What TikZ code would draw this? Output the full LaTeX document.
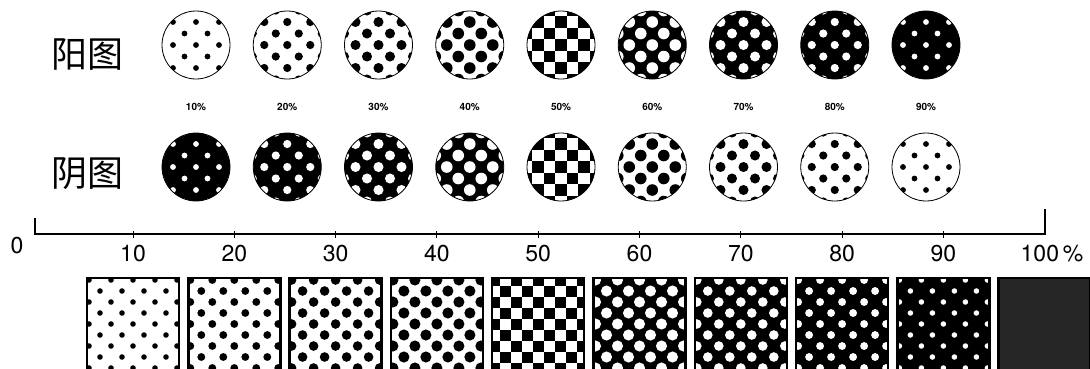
\documentclass[tikz,border=0pt]{standalone}
\usepackage{fontspec}
\setmainfont{TeX Gyre Heros}
\newfontfamily\cjk{Noto Sans CJK SC}
\usetikzlibrary{positioning}

% halftone fill: #1 = percent black, #2 = cell size
\newcommand{\tone}[2]{%
  \begin{scope}[shift={(path picture bounding box.center)}]
    \ifnum#1<50
      \fill[white] (-60,-60) rectangle (60,60);
      \pgfmathsetmacro{\dotr}{#2*sqrt(0.02*#1/pi)}
      \foreach \i in {-5,...,5}{\foreach \j in {-5,...,5}{
        \ifodd\numexpr\i+\j+10\relax\else
          \fill[black] (\i*#2,\j*#2) circle[radius=\dotr pt];
        \fi}}
    \else\ifnum#1=50
      \fill[white] (-60,-60) rectangle (60,60);
      \foreach \i in {-5,...,5}{\foreach \j in {-5,...,5}{
        \ifodd\numexpr\i+\j+10\relax\else
          \fill[black] (\i*#2-#2/2,\j*#2-#2/2) rectangle ++(#2,#2);
        \fi}}
    \else\ifnum#1<100
      \fill[black] (-60,-60) rectangle (60,60);
      \pgfmathsetmacro{\dotr}{#2*sqrt(0.02*(100-#1)/pi)}
      \foreach \i in {-5,...,5}{\foreach \j in {-5,...,5}{
        \ifodd\numexpr\i+\j+10\relax\else
          \fill[white] (\i*#2,\j*#2) circle[radius=\dotr pt];
        \fi}}
    \else
      \fill[black!85] (-60,-60) rectangle (60,60);
    \fi\fi\fi
  \end{scope}}

\begin{document}
\begin{tikzpicture}[x=1pt,y=-1pt,
  dotdisc/.style={circle, draw, line width=0.8pt, minimum size=68pt, inner sep=0pt},
  dotsquare/.style={rectangle, draw, line width=2.5pt, minimum size=92pt, inner sep=0pt},
  pctlabel/.style={font=\bfseries\fontsize{10}{10}\selectfont},
  axislabel/.style={font=\fontsize{23}{23}\selectfont},
  rowlabel/.style={font=\cjk\fontsize{36}{36}\selectfont}]
  \useasboundingbox (0,0) rectangle (1090,368);
  \clip (0,0) rectangle (1090,368);

  % row labels
  \node[rowlabel] (poslabel) at (87,54) {阳图};
  \node[rowlabel] (neglabel) at (87,174) {阴图};

  % positive and negative discs
  \foreach \k [evaluate=\k as \p using int(10*\k), evaluate=\k as \q using int(100-10*\k)] in {1,...,9}{
    \node[dotdisc, path picture={\tone{\p}{11.5}}] (pos\k) at ({196+91.25*(\k-1)},45) {};
    \node[pctlabel] (pct\k) at ({196+91.25*(\k-1)},107) {\p\%};
    \node[dotdisc, path picture={\tone{\q}{11.5}}] (neg\k) at ({196+91.25*(\k-1)},167) {};
  }

  % scale
  \coordinate (axisstart) at (35,218);
  \coordinate (origin) at (35,234);
  \coordinate (axisend) at (1045,234);
  \coordinate (axisstop) at (1045,209);
  \draw[line width=1.6pt] (axisstart) -- (origin) -- (axisend) -- (axisstop);
  \node[axislabel] (zero) at (17,246) {0};
  \foreach \k [evaluate=\k as \p using int(10*\k)] in {1,...,9}{
    \coordinate (tick\k) at ({133+101.3*(\k-1)},234);
    \draw[line width=1pt] ([yshift=-3.5pt]tick\k) -- ([yshift=3.5pt]tick\k);
    \node[axislabel] (num\k) at ({133+101.3*(\k-1)},254) {\p};
  }
  \node[axislabel] (num10) at (1052,254) {100\,\%};

  % halftone squares
  \foreach \k [evaluate=\k as \p using int(10*\k)] in {1,...,10}{
    \node[dotsquare, path picture={\tone{\p}{11}}] (sq\k) at ({133+101.3*(\k-1)},324) {};
  }
\end{tikzpicture}
\end{document}
